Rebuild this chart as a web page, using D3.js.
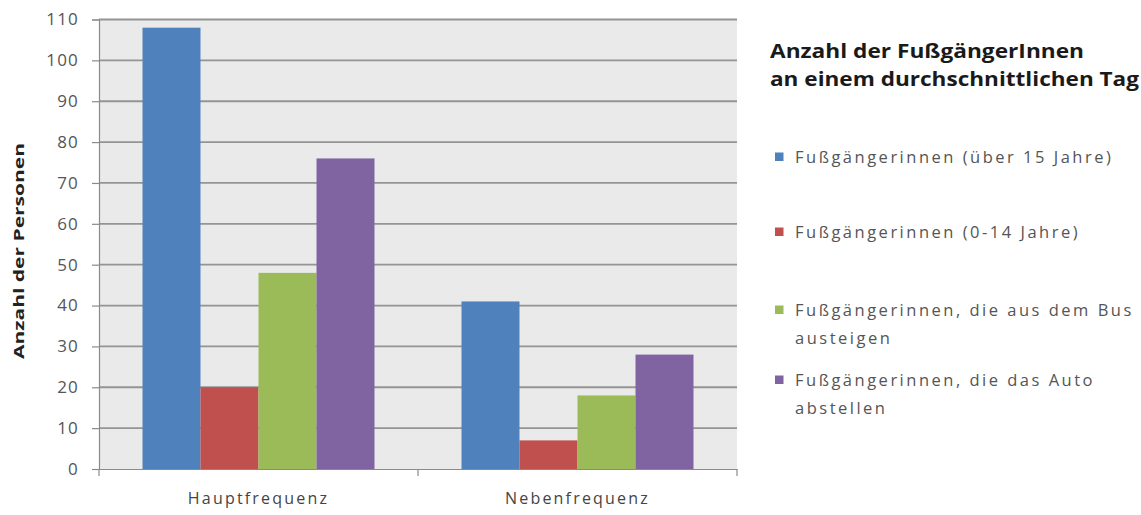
<!DOCTYPE html>
<html>
<head>
<meta charset="utf-8">
<script src="https://cdn.jsdelivr.net/npm/d3@7"></script>
<style>
  html, body { margin: 0; padding: 0; background: #fff; }
  svg { display: block; }
</style>
</head>
<body>
<svg id="chart" width="1141" height="515"></svg>
<script>
// Categories and series
const categories = ["Hauptfrequenz", "Nebenfrequenz"];
const seriesNames = [
  "Fußgängerinnen (über 15 Jahre)",
  "Fußgängerinnen (0-14 Jahre)",
  "Fußgängerinnen, die aus dem Bus austeigen",
  "Fußgängerinnen, die das Auto abstellen"
];
const legendLines = [
  ["Fußgängerinnen (über 15 Jahre)"],
  ["Fußgängerinnen (0-14 Jahre)"],
  ["Fußgängerinnen, die aus dem Bus", "austeigen"],
  ["Fußgängerinnen, die das Auto", "abstellen"]
];
const over15   = [108, 41];
const under15  = [20, 7];
const fromBus  = [48, 18];
const fromCar  = [76, 28];
const yTicks = [0, 10, 20, 30, 40, 50, 60, 70, 80, 90, 100, 110];
const colors = ["#4f81bd", "#c0504d", "#9bbb59", "#8064a2"];

const seriesValues = [over15, under15, fromBus, fromCar];

const svg = d3.select("#chart");
const plot = { left: 99, right: 737, top: 19.5, bottom: 469 };
const sans = "'Open Sans', 'Liberation Sans', sans-serif";

const x0 = d3.scaleBand().domain(categories).range([plot.left, plot.right]);
// 4 bars per group with a gap of 1.5 bar widths between groups
const x1 = d3.scaleBand().domain(d3.range(seriesNames.length))
  .range([0, x0.bandwidth()]).paddingInner(0).paddingOuter(0.75);
const y = d3.scaleLinear().domain([0, 110]).range([plot.bottom, plot.top]);

// plot background
svg.append("rect")
  .attr("x", plot.left).attr("y", plot.top)
  .attr("width", plot.right - plot.left).attr("height", plot.bottom - plot.top)
  .attr("fill", "#eaeaea");

// gridlines
svg.append("g").selectAll("line").data(yTicks.filter(d => d > 0)).join("line")
  .attr("x1", plot.left).attr("x2", plot.right)
  .attr("y1", d => y(d)).attr("y2", d => y(d))
  .attr("stroke", "#949494").attr("stroke-width", 1.8);

// bars
const groups = svg.append("g").selectAll("g").data(categories).join("g")
  .attr("transform", d => `translate(${x0(d)},0)`);
groups.selectAll("rect")
  .data((c, ci) => seriesValues.map((vals, si) => ({ si, v: vals[ci] })))
  .join("rect")
  .attr("x", d => x1(d.si))
  .attr("width", x1.bandwidth())
  .attr("y", d => y(d.v))
  .attr("height", d => y(0) - y(d.v))
  .attr("fill", d => colors[d.si]);

// y axis
const yAxis = d3.axisLeft(y).tickValues(yTicks).tickSize(7).tickPadding(13);
const gy = svg.append("g").attr("transform", `translate(${plot.left},0)`).call(yAxis);
gy.select(".domain").attr("stroke", "#8a8a8a").attr("stroke-width", 1.2);
gy.selectAll(".tick line").attr("stroke", "#8a8a8a").attr("stroke-width", 1.2);
gy.selectAll(".tick text")
  .attr("font-family", sans)
  .attr("font-size", 17).attr("fill", "#555").attr("letter-spacing", 1.2);

// x axis
const xAxis = d3.axisBottom(x0).tickSize(0).tickPadding(24);
const gx = svg.append("g").attr("transform", `translate(0,${plot.bottom})`).call(xAxis);
gx.select(".domain").attr("stroke", "#8a8a8a").attr("stroke-width", 1.2);
gx.selectAll(".tick text")
  .attr("font-family", sans)
  .attr("font-size", 16).attr("fill", "#444").attr("letter-spacing", 2.2);
// category boundary tick marks
svg.append("g").selectAll("line")
  .data([plot.left, x0(categories[1]), plot.right]).join("line")
  .attr("x1", d => d).attr("x2", d => d)
  .attr("y1", plot.bottom).attr("y2", plot.bottom + 7)
  .attr("stroke", "#8a8a8a").attr("stroke-width", 1.2);

// y axis title
svg.append("text")
  .attr("transform", `translate(24,251) rotate(-90)`)
  .attr("text-anchor", "middle")
  .attr("font-family", sans)
  .attr("font-weight", "bold").attr("font-size", 14).attr("fill", "#222")
  .attr("textLength", 216).attr("lengthAdjust", "spacingAndGlyphs")
  .text("Anzahl der Personen");

// legend title
const lt = svg.append("g").attr("font-family", sans)
  .attr("font-weight", "bold").attr("fill", "#1a1a1a");
lt.append("text").attr("x", 770).attr("y", 58).attr("font-size", 19)
  .attr("textLength", 314).attr("lengthAdjust", "spacingAndGlyphs")
  .text("Anzahl der FußgängerInnen");
lt.append("text").attr("x", 770).attr("y", 86).attr("font-size", 19)
  .attr("textLength", 369).attr("lengthAdjust", "spacingAndGlyphs")
  .text("an einem durchschnittlichen Tag");

// legend entries
const itemY = [157, 232, 310, 380];
const legend = svg.append("g");
legendLines.forEach((lines, i) => {
  legend.append("rect").attr("x", 775).attr("y", itemY[i] - 4.5)
    .attr("width", 8.5).attr("height", 8.5).attr("fill", colors[i]);
  lines.forEach((ln, j) => {
    legend.append("text")
      .attr("x", 795).attr("y", itemY[i] + 5.5 + j * 28)
      .attr("font-family", sans)
      .attr("font-size", 16.5).attr("fill", "#555").attr("letter-spacing", 2.5)
      .text(ln);
  });
});
</script>
</body>
</html>
